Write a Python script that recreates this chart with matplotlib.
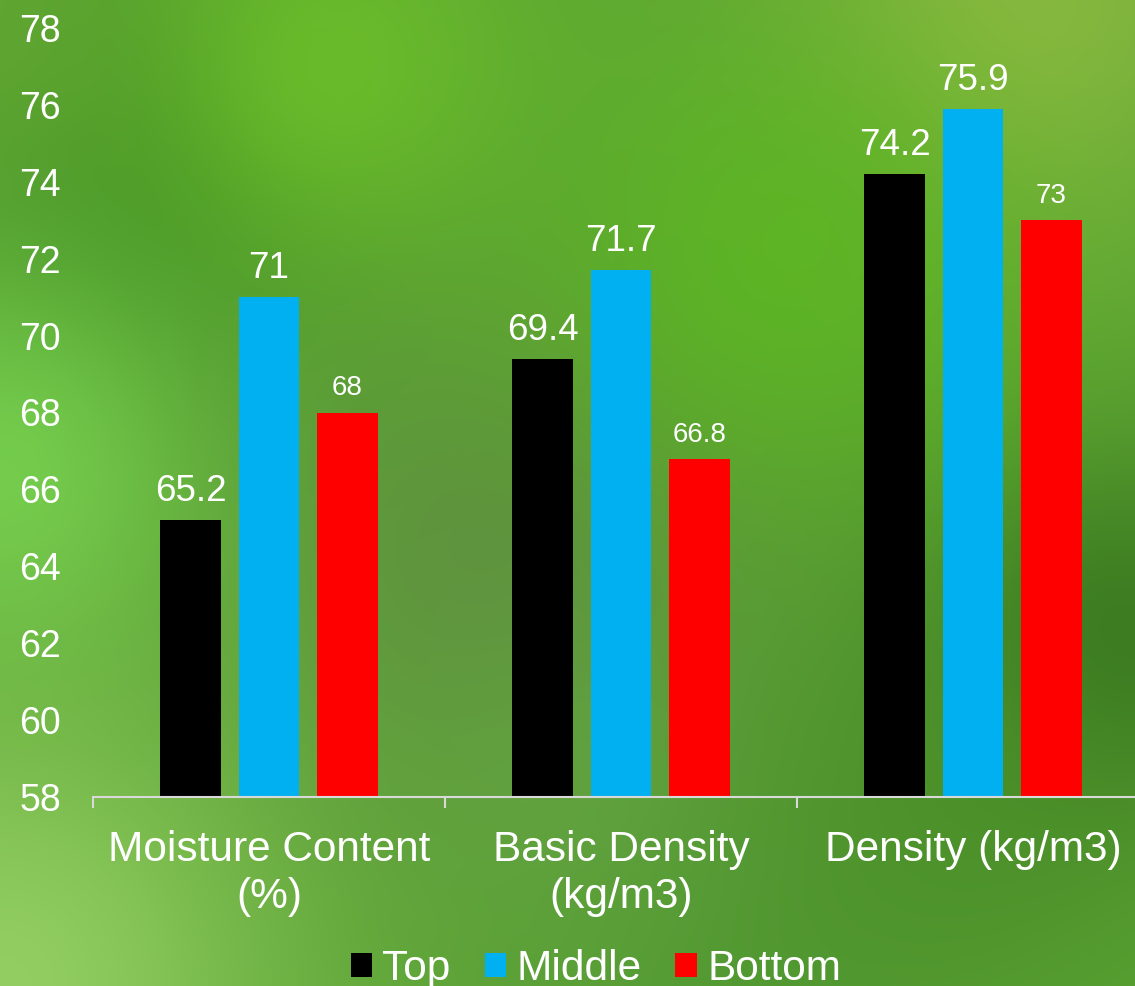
import numpy as np
import matplotlib
matplotlib.use("Agg")
import matplotlib.pyplot as plt

plt.rcParams['font.family'] = ['Liberation Sans', 'DejaVu Sans']

categories = ["Moisture Content\n(%)", "Basic Density\n(kg/m3)", "Density (kg/m3)"]
series_names = ["Top", "Middle", "Bottom"]
top_vals = [65.2, 69.4, 74.2]
middle_vals = [71.0, 71.7, 75.9]
bottom_vals = [68.0, 66.8, 73.0]
label_texts = [["65.2", "69.4", "74.2"], ["71", "71.7", "75.9"], ["68", "66.8", "73"]]
colors = ["#000000", "#00B0F0", "#FF0000"]
y_ticks = list(range(58, 79, 2))

W, H = 1135, 986
fig = plt.figure(figsize=(W / 100, H / 100), dpi=100)

# soft blurred green backdrop built from smooth colour blobs
yy, xx = np.mgrid[0:H, 0:W].astype(float)
base = np.array([92, 165, 52], dtype=float)
img = np.ones((H, W, 3)) * base
blobs = [
    # (cx, cy, sigma, rgb, weight)
    (180, 180, 150, (62, 140, 35), 0.9),
    (520, 560, 200, (95, 140, 65), 0.8),
    (1110, 640, 140, (55, 115, 30), 0.9),
    (330, 70, 140, (112, 195, 42), 0.8),
    (0, 470, 140, (118, 208, 78), 0.9),
    (1020, 0, 170, (142, 186, 66), 0.9),
    (780, 260, 170, (92, 184, 32), 0.8),
    (0, 986, 200, (152, 210, 102), 0.9),
    (760, 930, 180, (78, 148, 50), 0.6),
    (0, 40, 100, (100, 168, 50), 0.6),
    (580, 780, 120, (105, 170, 70), 0.5),
    (960, 820, 150, (72, 140, 38), 0.6),
]
for cx, cy, s, rgb, w in blobs:
    g = w * np.exp(-((xx - cx) ** 2 + (yy - cy) ** 2) / (2 * s ** 2))
    img = img * (1 - g[..., None]) + np.array(rgb, dtype=float) * g[..., None]
bg = fig.add_axes([0, 0, 1, 1], zorder=-10)
bg.imshow(np.clip(img, 0, 255).astype(np.uint8), aspect='auto', interpolation='bilinear')
bg.axis('off')

ax = fig.add_axes([93 / W, 1 - 797 / H, 1056 / W, 769 / H])
ax.patch.set_alpha(0)

x = np.arange(len(categories))
bar_w = 0.173
step = 0.222
all_vals = [top_vals, middle_vals, bottom_vals]
for i, (name, vals, col) in enumerate(zip(series_names, all_vals, colors)):
    pos = x + (i - 1) * step
    ax.bar(pos, [v - 58 for v in vals], bottom=58, width=bar_w, color=col, label=name)
    for j, (p, v) in enumerate(zip(pos, vals)):
        small = i == 2
        ax.annotate(label_texts[i][j], (p, v), xytext=(0, 8), textcoords='offset points',
                    ha='center', va='bottom', color='white',
                    fontsize=20 if small else 26.5)

ax.set_xlim(-0.5, 2.5)
ax.set_ylim(58, 78)
ax.set_yticks(y_ticks)
ax.tick_params(axis='y', length=0, pad=23, labelsize=27, labelcolor='white')
ax.set_xticks(x)
ax.set_xticklabels(categories, linespacing=1.2)
ax.tick_params(axis='x', which='major', length=0, pad=24, labelsize=30.5, labelcolor='white')
ax.set_xticks([-0.5, 0.5, 1.5, 2.5], minor=True)
ax.tick_params(axis='x', which='minor', length=8, width=1.5, color='#D9D9D9')
for s in ['top', 'right', 'left']:
    ax.spines[s].set_visible(False)
ax.spines['bottom'].set_color('#D9D9D9')
ax.spines['bottom'].set_linewidth(1.5)

leg = fig.legend(*ax.get_legend_handles_labels(), loc='center', bbox_to_anchor=(0.525, 0.017),
                 ncol=3, frameon=False, fontsize=30.5, handlelength=0.5, handleheight=0.5,
                 handletextpad=0.25, columnspacing=0.8, borderpad=0)
for t in leg.get_texts():
    t.set_color('white')

fig.savefig("out.png", dpi=100)
